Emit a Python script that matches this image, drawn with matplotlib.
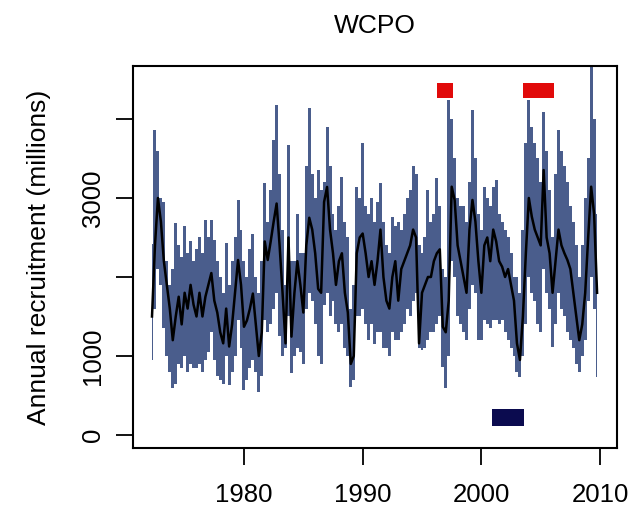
import numpy as np
import matplotlib.pyplot as plt
from matplotlib.patches import Rectangle

plt.rcParams['font.family'] = ['Liberation Sans', 'DejaVu Sans']

# quarterly recruitment estimates (millions), starting 1972.25
start_year = 1972.25
median = [1500, 2400, 3000,
          2700, 2200, 1900, 1600,   # 1973
          1200, 1500, 1750, 1400,   # 1974
          1800, 1600, 1900, 1650,   # 1975
          1500, 1800, 1500, 1750,   # 1976
          1900, 2050, 1700, 1550,   # 1977
          1300, 1160, 1600, 1120,   # 1978
          1400, 1800, 2215, 1900,   # 1979
          1370, 1450, 1600, 1790,   # 1980
          1400, 1000, 1300, 2450,   # 1981
          2215, 2450, 2700, 2930,   # 1982
          2400, 1800, 1160, 2500,   # 1983
          1245, 1800, 2200, 1900,   # 1984
          1550, 2400, 2750, 2600,   # 1985
          2300, 1850, 1800, 2950,   # 1986
          3140, 2600, 2300, 1900,   # 1987
          2200, 2300, 1800, 1550,   # 1988
          900, 1000, 2300, 2500,    # 1989
          2550, 2300, 2000, 2200,   # 1990
          1900, 2200, 2600, 2000,   # 1991
          1700, 1600, 2000, 2200,   # 1992
          1700, 2100, 2200, 2300,   # 1993
          2400, 2600, 2500, 1160,   # 1994
          1800, 1900, 2000, 2000,   # 1995
          2200, 2300, 2350, 1370,   # 1996
          1300, 1700, 3143, 2975,   # 1997
          2400, 2200, 2000, 1800,   # 1998
          2600, 2975, 2700, 2200,   # 1999
          1800, 2400, 2500, 2200,   # 2000
          2600, 2450, 2200, 2130,   # 2001
          2000, 2100, 1900, 1700,   # 2002
          1160, 950, 1500, 2300,    # 2003
          3000, 2764, 2600, 2500,   # 2004
          2400, 3354, 2500, 2300,   # 2005
          1800, 2200, 2600, 2400,   # 2006
          2300, 2215, 2100, 1800,   # 2007
          1500, 1200, 1400, 1800,   # 2008
          2500, 3143, 2800, 1800]   # 2009

lower = [950, 1600, 2100,
         1900, 1350, 1000, 800,
         600, 650, 900, 850,
         1000, 800, 900, 850,
         850, 900, 800, 950,
         1050, 1300, 950, 750,
         700, 650, 1000, 630,
         800, 1000, 1450, 1100,
         570, 700, 850, 950,
         800, 550, 750, 1450,
         1300, 1400, 1600, 1800,
         1250, 1000, 1100, 1500,
         780, 1000, 1100, 1050,
         900, 1600, 1800, 1700,
         1400, 1000, 900, 1650,
         1800, 1500, 1700, 1400,
         1300, 1400, 1100, 1000,
         610, 700, 1500, 1500,
         1600, 1400, 1200, 1400,
         1150, 1300, 1300, 1100,
         1100, 1000, 1300, 1200,
         1200, 1300, 1400, 1600,
         1500, 1700, 1800, 1100,
         1075, 1100, 1200, 1300,
         1300, 1400, 1500, 864,
         600, 1000, 2200, 2000,
         1500, 1400, 1300, 1200,
         1600, 1900, 1800, 1200,
         1200, 1450, 1400, 1350,
         1450, 1450, 1400, 1450,
         1300, 1200, 1100, 1000,
         800, 740, 1000, 1400,
         2000, 1800, 1700, 1400,
         1300, 2100, 1800, 1600,
         1118, 1400, 1800, 1600,
         1500, 1300, 1200, 1100,
         900, 800, 1000, 1200,
         1700, 2000, 1600, 740]

upper = [2420, 3860, 3600,
         3000, 2950, 2200, 1900,
         2100, 2680, 2400, 2250,
         2640, 2300, 2450, 2200,
         2350, 2500, 2300, 2720,
         2500, 2720, 2470, 2200,
         2000, 1800, 2430, 1900,
         2200, 2500, 2975, 2600,
         2200, 2000, 2350, 2540,
         2000, 1800, 2200, 3185,
         2700, 3100, 3730, 4177,
         3300, 2600, 1900, 3670,
         2200, 2200, 2800, 2300,
         2300, 3400, 4135, 3300,
         3000, 3350, 3100, 3200,
         3900, 3400, 2800, 2600,
         2900, 3270, 2700, 2500,
         1600, 1900, 3140, 3000,
         3690, 2900, 2800, 3000,
         2700, 2950, 3185, 2700,
         2400, 2300, 2760, 2640,
         2700, 2600, 2800, 3000,
         3100, 3400, 3300, 2400,
         2300, 2500, 3100, 2700,
         2800, 3250, 2900, 2100,
         2000, 4240, 4000, 3500,
         3000, 2900, 2900, 2700,
         3200, 4114, 3500, 2800,
         2600, 3143, 3000, 2900,
         3140, 3228, 2800, 2700,
         2600, 2500, 2300, 2000,
         2000, 1800, 2600, 3700,
         4240, 3900, 3700, 3500,
         3200, 4093, 3600, 3100,
         2500, 3300, 3861, 3600,
         3400, 3200, 2900, 2700,
         2400, 2000, 2400, 3000,
         3500, 4750, 4000, 2800]

# event periods (start, end year) and bar heights
warm_periods = [(1996.3, 1997.6), (2003.5, 2006.1)]
warm_band = (4266, 4456)
cold_periods = [(2000.9, 2003.6)]
cold_band = (114, 330)

years = start_year + 0.25 * np.arange(len(median))

fig = plt.figure(figsize=(6.28, 5.14), dpi=100)
ax = fig.add_axes([0.2118, 0.1284, 0.7707, 0.7432])

ax.fill_between(years, lower, upper, step='mid', color='#4a5d8c', lw=0)
ax.plot(years, median, color='black', lw=1.8)

for s, e in warm_periods:
    ax.add_patch(Rectangle((s, warm_band[0]), e - s, warm_band[1] - warm_band[0],
                           facecolor='#e10a0a', edgecolor='none'))
for s, e in cold_periods:
    ax.add_patch(Rectangle((s, cold_band[0]), e - s, cold_band[1] - cold_band[0],
                           facecolor='#0b0b4f', edgecolor='none'))

ax.set_xlim(1970.65, 2011.43)
ax.set_ylim(-165, 4671)

ax.set_xticks([1980, 1990, 2000, 2010])
ax.set_xticklabels(['1980', '1990', '2000', '2010'], fontsize=18.5)
ax.set_yticks([0, 1000, 2000, 3000, 4000])
ax.set_yticklabels(['0', '1000', '', '3000', ''], fontsize=18.5, rotation=90, va='center')
ax.tick_params(axis='x', length=12, width=1.3, pad=13)
ax.tick_params(axis='y', length=12, width=1.3, pad=8)

for sp in ax.spines.values():
    sp.set_linewidth(1.5)

ax.set_ylabel('Annual recruitment (millions)', fontsize=19, labelpad=22)
ax.set_title('WCPO', fontsize=19, pad=24)

fig.savefig('out.png', dpi=100)
